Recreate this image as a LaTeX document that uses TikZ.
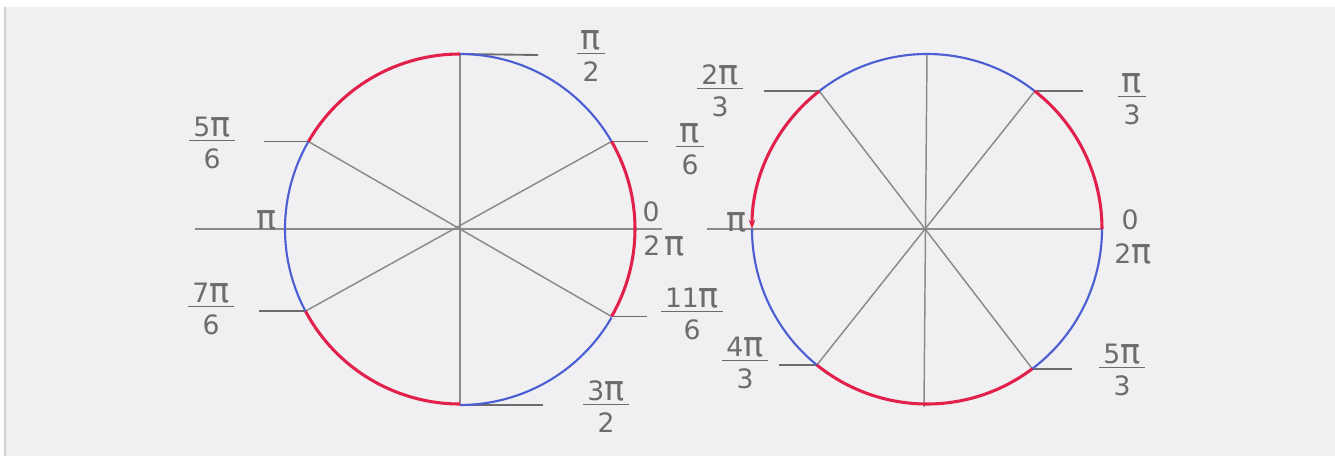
\documentclass[tikz,border=0pt]{standalone}
\usepackage{fontspec}
\usepackage{graphicx}
\setmainfont{DejaVu Sans}
\usetikzlibrary{calc,arrows.meta}
\definecolor{pencil}{HTML}{8A8A8A}
\definecolor{lead}{HTML}{6C6C6C}
\definecolor{redp}{HTML}{E2204C}
\definecolor{bluep}{HTML}{4C5FD2}
\definecolor{paper}{HTML}{F0F0F2}
\newcommand\PI{\scalebox{1.25}[1.3]{π}}
\newcommand\frc[2]{\setlength\arrayrulewidth{1.3pt}\begin{tabular}{@{\hspace{3pt}}c@{\hspace{3pt}}}#1\\[-5pt]\hline\rule{0pt}{20pt}#2\end{tabular}}
\begin{document}
\begin{tikzpicture}[x=0.75pt,y=-0.75pt,
  axis/.style={draw=pencil, line width=1.1pt},
  tickline/.style={draw=lead, line width=1.4pt},
  redarc/.style={draw=redp, line width=2.3pt},
  bluearc/.style={draw=bluep, line width=1.6pt},
  lab/.style={text=lead, font=\fontsize{20}{24}\selectfont, inner sep=0pt}]
\useasboundingbox (0,0) rectangle (1335,460);
\fill[white] (0,0) rectangle (1335,460);
\fill[paper] (6,7) rectangle (1335,456);
\draw[pencil!40, line width=0.8pt] (5,7) -- (5,456);

% ---------------- left circle ----------------
\coordinate (L) at (460,229);
\coordinate (Ltop) at ($(L)+(0,-175)$);
\coordinate (Lbot) at ($(L)+(0,176)$);
\coordinate (Lhl) at (195,229);
\coordinate (Lhr) at (662,229);
\coordinate (Lp6) at ($(L)+(-30:175)$);
\coordinate (L5p6) at ($(L)+(-150:175)$);
\coordinate (L7p6) at ($(L)+(-208:175)$);
\coordinate (L11p6) at ($(L)+(-330:175)$);
\coordinate (Ltop-t) at ($(Ltop)+(78,1)$);
\coordinate (Lbot-t) at ($(Lbot)+(83,0)$);
\coordinate (Lp6-t) at ($(Lp6)+(36,0)$);
\coordinate (L11p6-t) at ($(L11p6)+(35,0)$);
\coordinate (L5p6-t) at ($(L5p6)+(-44,0)$);
\coordinate (L7p6-t) at ($(L7p6)+(-46,0)$);

\draw[axis] (Lhl) -- (Lhr);
\draw[axis] (Ltop) -- (Lbot);
\draw[axis] (L5p6) -- (L11p6);
\draw[axis] (L7p6) -- (Lp6);
\draw[tickline] (Ltop) -- (Ltop-t);
\draw[tickline] (Lbot) -- (Lbot-t);
\draw[tickline] (Lp6) -- (Lp6-t);
\draw[tickline] (L11p6) -- (L11p6-t);
\draw[tickline] (L5p6) -- (L5p6-t);
\draw[tickline] (L7p6) -- (L7p6-t);

\draw[bluearc] (Lp6) arc[start angle=30, end angle=90, radius=131.25pt];
\draw[bluearc] (L5p6) arc[start angle=150, end angle=208, radius=131.25pt];
\draw[bluearc] (Lbot) arc[start angle=270, end angle=330, radius=131.25pt];
\draw[redarc] (Lp6) arc[start angle=30, end angle=-30, radius=131.25pt];
\draw[redarc] (Ltop) arc[start angle=90, end angle=150, radius=131.25pt];
\draw[redarc] (L7p6) arc[start angle=208, end angle=270, radius=131.25pt];

\node[lab] (l-pi2) at (591,59) {\frc{\PI}{2}};
\node[lab] (l-pi6) at (690,152) {\frc{\PI}{6}};
\node[lab] (l-zero) at (651,212) {0};
\node[lab] (l-2pi) at (664,246) {2\,\PI};
\node[lab] (l-11pi6) at (692,317) {\frc{11\PI}{6}};
\node[lab] (l-3pi2) at (606,410) {\frc{3\PI}{2}};
\node[lab] (l-5pi6) at (212,146) {\frc{5\PI}{6}};
\node[lab] (l-pi) at (267,220) {\PI};
\node[lab] (l-7pi6) at (211,312) {\frc{7\PI}{6}};

% ---------------- right circle ----------------
\coordinate (R) at (927,229);
\coordinate (Rtop) at ($(R)+(0,-176)$);
\coordinate (Rbot) at ($(R)+(-3,178)$);
\coordinate (Rhl) at (707,229);
\coordinate (Rright) at ($(R)+(175,0)$);
\coordinate (Rleft) at ($(R)+(-175,0)$);
\coordinate (Rp3) at ($(R)+(-52:175)$);
\coordinate (R2p3) at ($(R)+(-128:175)$);
\coordinate (R4p3) at ($(R)+(-231:175)$);
\coordinate (R5p3) at ($(R)+(-307:175)$);
\coordinate (Rp3-t) at ($(Rp3)+(48,0)$);
\coordinate (R2p3-t) at ($(R2p3)+(-55,0)$);
\coordinate (R4p3-t) at ($(R4p3)+(-38,0)$);
\coordinate (R5p3-t) at ($(R5p3)+(40,0)$);

\draw[axis] (Rhl) -- (Rright);
\draw[axis] (Rtop) -- (Rbot);
\draw[axis] (R2p3) -- (R5p3);
\draw[axis] (Rp3) -- (R4p3);
\draw[tickline] (Rp3) -- (Rp3-t);
\draw[tickline] (R2p3) -- (R2p3-t);
\draw[tickline] (R4p3) -- (R4p3-t);
\draw[tickline] (R5p3) -- (R5p3-t);

\draw[bluearc] (Rp3) arc[start angle=52, end angle=128, radius=131.25pt];
\draw[bluearc] (Rleft) arc[start angle=180, end angle=231, radius=131.25pt];
\draw[bluearc] (R5p3) arc[start angle=307, end angle=360, radius=131.25pt];
\draw[redarc] (Rp3) arc[start angle=52, end angle=0, radius=131.25pt];
\draw[redarc, -{Stealth[length=7pt,width=5pt]}] (R2p3) arc[start angle=128, end angle=180, radius=131.25pt];
\draw[redarc] (R4p3) arc[start angle=231, end angle=307, radius=131.25pt];

\node[lab] (r-2pi3) at (720,94) {\frc{2\PI}{3}};
\node[lab] (r-pi3) at (1132,102) {\frc{\PI}{3}};
\node[lab] (r-zero) at (1130,220) {0};
\node[lab] (r-2pi) at (1133,254) {2\PI};
\node[lab] (r-pi) at (737,222) {\PI};
\node[lab] (r-4pi3) at (745,366) {\frc{4\PI}{3}};
\node[lab] (r-5pi3) at (1122,373) {\frc{5\PI}{3}};
\end{tikzpicture}
\end{document}
